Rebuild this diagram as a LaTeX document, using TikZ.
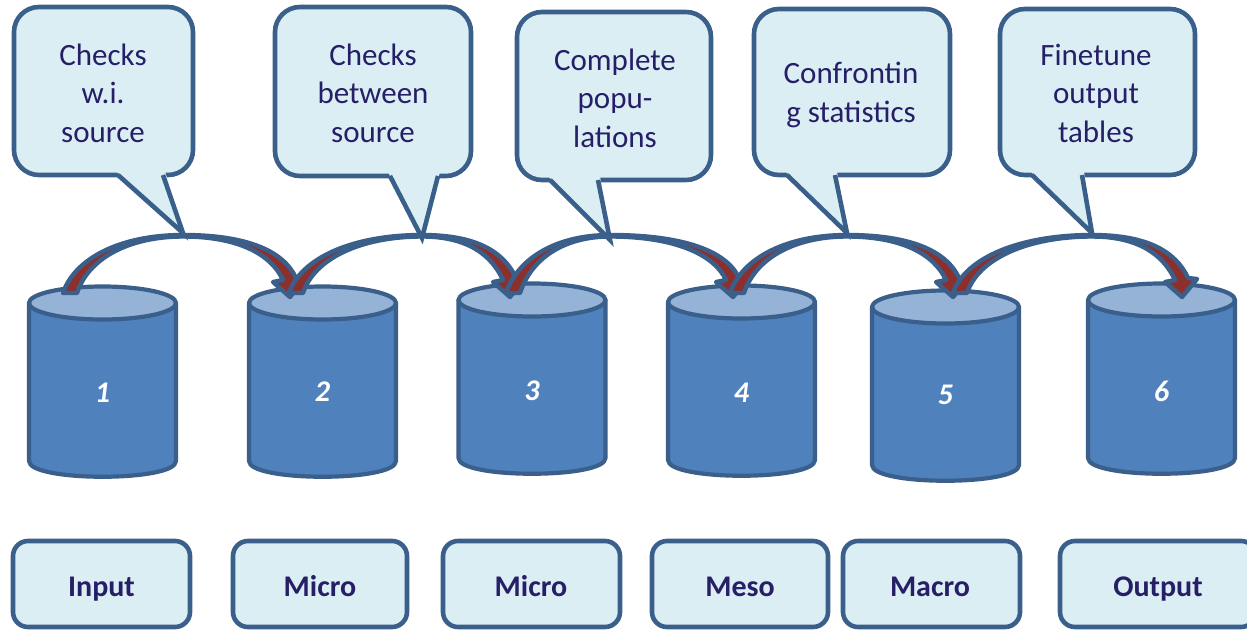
\documentclass[tikz,border=0pt]{standalone}
\usepackage{fontspec}
\setmainfont{Carlito}
\definecolor{bord}{RGB}{58,95,139}
\definecolor{cylbody}{RGB}{79,129,189}
\definecolor{cyltop}{RGB}{149,179,215}
\definecolor{lightfill}{RGB}{219,238,244}
\definecolor{navytext}{RGB}{38,30,102}
\definecolor{arrowred}{RGB}{140,48,46}
\tikzset{
  cylline/.style={draw=bord, line width=4.2pt, line join=round},
  cyllabel/.style={text=white, font=\fontsize{30}{36}\selectfont\bfseries\itshape, inner sep=0pt},
  arcline/.style={draw=bord, fill=arrowred, line width=4.4pt, line join=round},
  calloutbox/.style={draw=bord, fill=lightfill, line width=4.6pt, rounded corners=25pt},
  calloutedge/.style={draw=bord, line width=4.6pt, line join=miter},
  callouttext/.style={text=navytext, font=\fontsize{31}{38.5}\selectfont, align=center, anchor=north, inner sep=0pt},
  stagebox/.style={draw=bord, fill=lightfill, line width=4.6pt, rounded corners=15pt, inner sep=0pt, minimum height=86pt},
  stagetext/.style={text=navytext, font=\fontsize{30}{36}\selectfont\bfseries, text height=19pt, text depth=0pt, inner sep=0pt}
}
% #1 label, #2 centre x, #3 top y, #4 label y
\newcommand\mycyl[4]{%
  \filldraw[cylline, fill=cylbody] ({#2-73.5},#3) -- ({#2-73.5},{#3+158})
    .. controls ({#2-73.5},{#3+179}) and ({#2+73.5},{#3+179}) .. ({#2+73.5},{#3+158})
    -- ({#2+73.5},#3) -- cycle;
  \filldraw[cylline, fill=cyltop] (#2,#3) ellipse [x radius=73.5, y radius=16.5];
  \node[cyllabel] (n#1) at (#2,#4) {#1};
}
% #1 start foot x, #2 apex x, #3 tip x
\newcommand\myarc[3]{%
  \filldraw[arcline] ({#1-7},293) .. controls ({#1+5},258) and ({#1+0.45*(#2-#1)},235) .. (#2,235)
    .. controls ({#2+0.55*(#3+6-#2)},235) and ({#3-7},250) .. ({#3+6},278)
    -- ({#3+15},279) -- (#3,297) -- ({#3-17},282) -- ({#3-7},280)
    .. controls ({#3-19},254) and ({#2+0.55*(#3-7-#2)},236.5) .. (#2,236.5)
    .. controls ({#2-0.52*(#2-#1-7)},236.5) and ({#1+18},259) .. ({#1+7},293) -- cycle;
}
% x1,x2,y1,y2,base left,base right,tip x,tip y
\newcommand\mycallout[8]{%
  \draw[calloutbox] (#1,#3) rectangle (#2,#4);
  \fill[lightfill] ({#5-2},{#4-4}) -- (#7,#8) -- ({#6+2},{#4-4}) -- cycle;
  \draw[calloutedge] (#5,#4) -- (#7,#8) -- (#6,#4);
}
\begin{document}
\begin{tikzpicture}[x=1pt,y=-1pt]
\useasboundingbox (0,0) rectangle (1247,629);
\clip (0,0) rectangle (1247,629);

% cylinders
\mycyl{1}{102.5}{303}{393}
\mycyl{2}{322.5}{303}{392}
\mycyl{3}{532}{300}{391}
\mycyl{4}{741.5}{302}{393}
\mycyl{5}{945.5}{307}{395}
\mycyl{6}{1161.5}{300}{391}

% curved arrows
\myarc{70}{183}{290}
\myarc{296}{422}{510}
\myarc{513}{610}{733}
\myarc{737}{847}{953}
\myarc{960}{1092}{1182}

% callouts
\mycallout{14}{193}{7}{175}{118}{163}{183}{233}
\node[callouttext] (t1) at (103,38) {\strut Checks\\w.i.\\source};
\mycallout{275}{471}{7}{176}{390}{438}{422}{238}
\node[callouttext] (t2) at (373,38) {\strut Checks\\between\\source};
\mycallout{517}{711}{12}{180}{550}{598}{610}{240}
\node[callouttext] (t3) at (615,43) {\strut Complete\\popu-\\lations};
\mycallout{754}{950}{9}{175}{787}{835}{847}{233}
\node[callouttext] (t4) at (851,56.4) {\strut Confrontin\\g statistics};
\mycallout{1000}{1195}{9}{175}{1032}{1082}{1092}{233}
\node[callouttext] (t5) at (1096,38) {\strut Finetune\\output\\tables};

% stage boxes
\node[stagebox, minimum width=177pt] (b1) at (101.5,584) {};
\node[stagetext] (s1) at (101.5,586.5) {Input};
\node[stagebox, minimum width=174pt] (b2) at (320,584) {};
\node[stagetext] (s2) at (320,586.5) {Micro};
\node[stagebox, minimum width=177pt] (b3) at (531.5,584) {};
\node[stagetext] (s3) at (531,586.5) {Micro};
\node[stagebox, minimum width=176pt] (b4) at (740,584) {};
\node[stagetext] (s4) at (740,586.5) {Meso};
\node[stagebox, minimum width=177pt] (b5) at (931.5,584) {};
\node[stagetext] (s5) at (930,586.5) {Macro};
\node[stagebox, minimum width=196pt] (b6) at (1158,584) {};
\node[stagetext] (s6) at (1158,586.5) {Output};
\end{tikzpicture}
\end{document}
